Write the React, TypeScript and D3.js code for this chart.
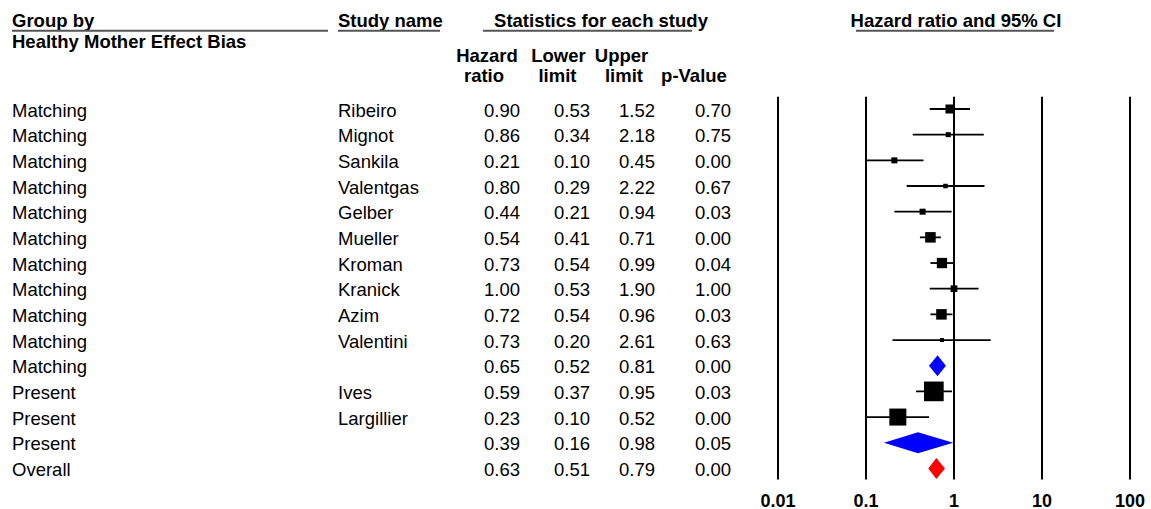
import React from "react";
import * as d3 from "d3";

const groups = ["Matching","Matching","Matching","Matching","Matching","Matching","Matching","Matching","Matching","Matching","Matching","Present","Present","Present","Overall"];
const studies = ["Ribeiro","Mignot","Sankila","Valentgas","Gelber","Mueller","Kroman","Kranick","Azim","Valentini","","Ives","Largillier","",""];
const hazardRatio = [0.90,0.86,0.21,0.80,0.44,0.54,0.73,1.00,0.72,0.73,0.65,0.59,0.23,0.39,0.63];
const lowerLimit = [0.53,0.34,0.10,0.29,0.21,0.41,0.54,0.53,0.54,0.20,0.52,0.37,0.10,0.16,0.51];
const upperLimit = [1.52,2.18,0.45,2.22,0.94,0.71,0.99,1.90,0.96,2.61,0.81,0.95,0.52,0.98,0.79];
const pValues = [0.70,0.75,0.00,0.67,0.03,0.00,0.04,1.00,0.03,0.63,0.00,0.03,0.00,0.05,0.00];
const rowKind = ["study","study","study","study","study","study","study","study","study","study","subtotal","study","study","subtotal","overall"];
const markerSize = [9,5,6,4.5,6,10.5,10.3,6.7,10.5,4,0,19.7,17,0,0];
const axisTicks = [0.01,0.1,1,10,100];
const axisTickLabels = ["0.01","0.1","1","10","100"];

const FONT = "'Liberation Sans', Arial, Helvetica, sans-serif";
const FS = 18.5;

export default function App() {
  const W = 1151, H = 509;
  const x = d3.scaleLog().domain([0.01, 100]).range([778, 1130]);
  const rowIdx = d3.range(groups.length);
  const y = d3.scaleLinear().domain([0, 14]).range([109, 468.4]);
  const fmt = d3.format(".2f");
  const gridTop = 96.7, gridBottom = 479.5;

  const colHR = 520, colLo = 590, colUp = 655, colP = 731;

  return (
    <svg width={W} height={H} style={{ position: "absolute", left: 0, top: 0, background: "#fff" }} fontFamily={FONT}>
      <rect x={0} y={0} width={W} height={H} fill="#fff" />
      {/* headers */}
      <g fontWeight="bold" fontSize={FS} fill="#000">
        <text x={12} y={26.5}>Group by</text>
        <text x={12} y={48}>Healthy Mother Effect Bias</text>
        <text x={338} y={26.5}>Study name</text>
        <text x={601} y={26.5} textAnchor="middle">Statistics for each study</text>
        <text x={956} y={26.5} textAnchor="middle">Hazard ratio and 95% CI</text>
        <text x={487} y={61.5} textAnchor="middle">Hazard</text>
        <text x={484} y={81.5} textAnchor="middle">ratio</text>
        <text x={558.5} y={61.5} textAnchor="middle">Lower</text>
        <text x={557.5} y={81.5} textAnchor="middle">limit</text>
        <text x={621.5} y={61.5} textAnchor="middle">Upper</text>
        <text x={624} y={81.5} textAnchor="middle">limit</text>
        <text x={694} y={81.5} textAnchor="middle">p-Value</text>
      </g>
      <g stroke="#555" strokeWidth={2}>
        <line x1={12} x2={328} y1={30.8} y2={30.8} />
        <line x1={338} x2={440} y1={30.8} y2={30.8} />
        <line x1={483} x2={692} y1={30.8} y2={30.8} />
        <line x1={856} x2={1054} y1={30.8} y2={30.8} />
      </g>
      {/* table rows */}
      <g fontSize={FS} fill="#000">
        {rowIdx.map((i) => {
          const base = y(i) + 7.6;
          return (
            <g key={i}>
              <text x={12} y={base}>{groups[i]}</text>
              <text x={338} y={base}>{studies[i]}</text>
              <text x={colHR} y={base} textAnchor="end">{fmt(hazardRatio[i])}</text>
              <text x={colLo} y={base} textAnchor="end">{fmt(lowerLimit[i])}</text>
              <text x={colUp} y={base} textAnchor="end">{fmt(upperLimit[i])}</text>
              <text x={colP} y={base} textAnchor="end">{fmt(pValues[i])}</text>
            </g>
          );
        })}
      </g>
      {/* grid lines */}
      <g stroke="#000" strokeWidth={2}>
        {axisTicks.map((t) => (
          <line key={t} x1={x(t)} x2={x(t)} y1={gridTop} y2={gridBottom} />
        ))}
      </g>
      {/* tick labels */}
      <g fontWeight="bold" fontSize={18} fill="#000">
        {axisTicks.map((t, k) => (
          <text key={t} x={x(t)} y={506.5} textAnchor="middle">{axisTickLabels[k]}</text>
        ))}
      </g>
      {/* markers */}
      <g>
        {rowIdx.map((i) => {
          const cy = y(i);
          if (rowKind[i] === "study") {
            const s = markerSize[i];
            return (
              <g key={i}>
                <line x1={x(lowerLimit[i])} x2={x(upperLimit[i])} y1={cy} y2={cy} stroke="#000" strokeWidth={1.8} />
                <rect x={x(hazardRatio[i]) - s / 2} y={cy - s / 2} width={s} height={s} fill="#000" />
              </g>
            );
          }
          const h = 10.5;
          const pts = [
            [x(lowerLimit[i]), cy],
            [x(hazardRatio[i]), cy - h],
            [x(upperLimit[i]), cy],
            [x(hazardRatio[i]), cy + h],
          ];
          return (
            <polygon key={i} points={pts.map((p) => p.join(",")).join(" ")} fill={rowKind[i] === "overall" ? "#ff0000" : "#0000ff"} />
          );
        })}
      </g>
    </svg>
  );
}
